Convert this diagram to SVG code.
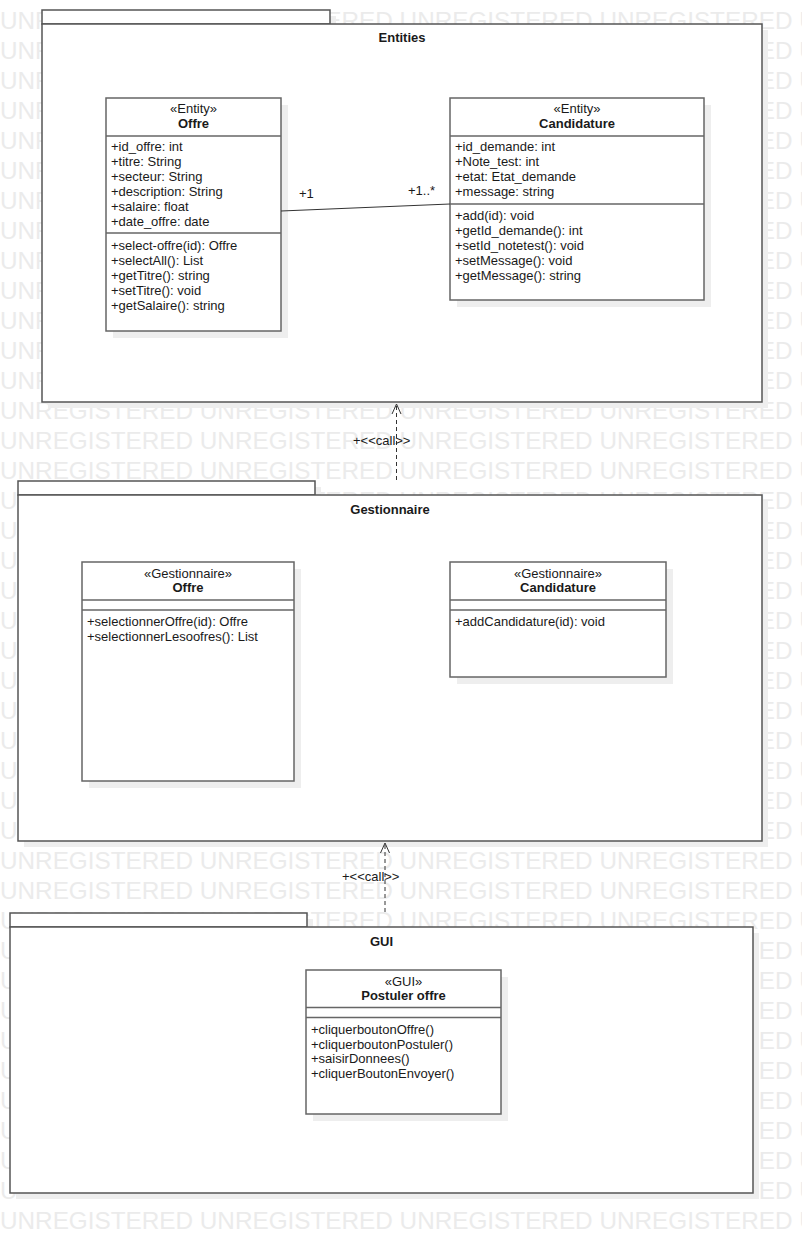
<svg xmlns="http://www.w3.org/2000/svg" width="802" height="1234" viewBox="0 0 802 1234">
<style>
.wm{font-family:"Liberation Sans",Arial,sans-serif;font-size:24.3px;fill:#ebebeb}
.pk{fill:#fff;stroke:#555;stroke-width:1.5}
.sh{fill:#eeeeee}
.cl{fill:#fff;stroke:#666;stroke-width:1.5}
.dv{stroke:#666;stroke-width:1.5}
.t{font-family:"Liberation Sans",Arial,sans-serif;font-size:13px;fill:#1a1a1a}
.b{font-weight:bold}
.c{text-anchor:middle}
.conn{stroke:#333;stroke-width:1;fill:none}
.dash{stroke-dasharray:4 3}
</style>
<rect width="802" height="1234" fill="#fff"/>
<g id="watermark" class="wm">
<text x="0" y="28.5">UNREGISTERED UNREGISTERED UNREGISTERED UNREGISTERED UNREGISTERED</text>
<text x="0" y="58.5">UNREGISTERED UNREGISTERED UNREGISTERED UNREGISTERED UNREGISTERED</text>
<text x="0" y="88.5">UNREGISTERED UNREGISTERED UNREGISTERED UNREGISTERED UNREGISTERED</text>
<text x="0" y="118.5">UNREGISTERED UNREGISTERED UNREGISTERED UNREGISTERED UNREGISTERED</text>
<text x="0" y="148.5">UNREGISTERED UNREGISTERED UNREGISTERED UNREGISTERED UNREGISTERED</text>
<text x="0" y="178.5">UNREGISTERED UNREGISTERED UNREGISTERED UNREGISTERED UNREGISTERED</text>
<text x="0" y="208.5">UNREGISTERED UNREGISTERED UNREGISTERED UNREGISTERED UNREGISTERED</text>
<text x="0" y="238.5">UNREGISTERED UNREGISTERED UNREGISTERED UNREGISTERED UNREGISTERED</text>
<text x="0" y="268.5">UNREGISTERED UNREGISTERED UNREGISTERED UNREGISTERED UNREGISTERED</text>
<text x="0" y="298.5">UNREGISTERED UNREGISTERED UNREGISTERED UNREGISTERED UNREGISTERED</text>
<text x="0" y="328.5">UNREGISTERED UNREGISTERED UNREGISTERED UNREGISTERED UNREGISTERED</text>
<text x="0" y="358.5">UNREGISTERED UNREGISTERED UNREGISTERED UNREGISTERED UNREGISTERED</text>
<text x="0" y="388.5">UNREGISTERED UNREGISTERED UNREGISTERED UNREGISTERED UNREGISTERED</text>
<text x="0" y="418.5">UNREGISTERED UNREGISTERED UNREGISTERED UNREGISTERED UNREGISTERED</text>
<text x="0" y="448.5">UNREGISTERED UNREGISTERED UNREGISTERED UNREGISTERED UNREGISTERED</text>
<text x="0" y="478.5">UNREGISTERED UNREGISTERED UNREGISTERED UNREGISTERED UNREGISTERED</text>
<text x="0" y="508.5">UNREGISTERED UNREGISTERED UNREGISTERED UNREGISTERED UNREGISTERED</text>
<text x="0" y="538.5">UNREGISTERED UNREGISTERED UNREGISTERED UNREGISTERED UNREGISTERED</text>
<text x="0" y="568.5">UNREGISTERED UNREGISTERED UNREGISTERED UNREGISTERED UNREGISTERED</text>
<text x="0" y="598.5">UNREGISTERED UNREGISTERED UNREGISTERED UNREGISTERED UNREGISTERED</text>
<text x="0" y="628.5">UNREGISTERED UNREGISTERED UNREGISTERED UNREGISTERED UNREGISTERED</text>
<text x="0" y="658.5">UNREGISTERED UNREGISTERED UNREGISTERED UNREGISTERED UNREGISTERED</text>
<text x="0" y="688.5">UNREGISTERED UNREGISTERED UNREGISTERED UNREGISTERED UNREGISTERED</text>
<text x="0" y="718.5">UNREGISTERED UNREGISTERED UNREGISTERED UNREGISTERED UNREGISTERED</text>
<text x="0" y="748.5">UNREGISTERED UNREGISTERED UNREGISTERED UNREGISTERED UNREGISTERED</text>
<text x="0" y="778.5">UNREGISTERED UNREGISTERED UNREGISTERED UNREGISTERED UNREGISTERED</text>
<text x="0" y="808.5">UNREGISTERED UNREGISTERED UNREGISTERED UNREGISTERED UNREGISTERED</text>
<text x="0" y="838.5">UNREGISTERED UNREGISTERED UNREGISTERED UNREGISTERED UNREGISTERED</text>
<text x="0" y="868.5">UNREGISTERED UNREGISTERED UNREGISTERED UNREGISTERED UNREGISTERED</text>
<text x="0" y="898.5">UNREGISTERED UNREGISTERED UNREGISTERED UNREGISTERED UNREGISTERED</text>
<text x="0" y="928.5">UNREGISTERED UNREGISTERED UNREGISTERED UNREGISTERED UNREGISTERED</text>
<text x="0" y="958.5">UNREGISTERED UNREGISTERED UNREGISTERED UNREGISTERED UNREGISTERED</text>
<text x="0" y="988.5">UNREGISTERED UNREGISTERED UNREGISTERED UNREGISTERED UNREGISTERED</text>
<text x="0" y="1018.5">UNREGISTERED UNREGISTERED UNREGISTERED UNREGISTERED UNREGISTERED</text>
<text x="0" y="1048.5">UNREGISTERED UNREGISTERED UNREGISTERED UNREGISTERED UNREGISTERED</text>
<text x="0" y="1078.5">UNREGISTERED UNREGISTERED UNREGISTERED UNREGISTERED UNREGISTERED</text>
<text x="0" y="1108.5">UNREGISTERED UNREGISTERED UNREGISTERED UNREGISTERED UNREGISTERED</text>
<text x="0" y="1138.5">UNREGISTERED UNREGISTERED UNREGISTERED UNREGISTERED UNREGISTERED</text>
<text x="0" y="1168.5">UNREGISTERED UNREGISTERED UNREGISTERED UNREGISTERED UNREGISTERED</text>
<text x="0" y="1198.5">UNREGISTERED UNREGISTERED UNREGISTERED UNREGISTERED UNREGISTERED</text>
<text x="0" y="1228.5">UNREGISTERED UNREGISTERED UNREGISTERED UNREGISTERED UNREGISTERED</text>
</g>

<g id="pkg-entities">
<rect class="sh" x="48" y="16" width="288" height="14"/>
<rect class="sh" x="48" y="30" width="720" height="378"/>
<rect class="pk" x="42" y="10" width="288" height="14"/>
<rect class="pk" x="42" y="24" width="720" height="378"/>
<text class="t b c" x="402" y="41.5">Entities</text>
</g>

<g id="pkg-gestionnaire">
<rect class="sh" x="24" y="487" width="297" height="14"/>
<rect class="sh" x="24" y="501" width="744" height="346"/>
<rect class="pk" x="18" y="481" width="297" height="14"/>
<rect class="pk" x="18" y="495" width="744" height="346"/>
<text class="t b c" x="390" y="513.5">Gestionnaire</text>
</g>

<g id="pkg-gui">
<rect class="sh" x="16" y="919" width="297" height="14"/>
<rect class="sh" x="16" y="933" width="743" height="266"/>
<rect class="pk" x="10" y="913" width="297" height="14"/>
<rect class="pk" x="10" y="927" width="743" height="266"/>
<text class="t b c" x="381.5" y="946">GUI</text>
</g>

<g id="entity-offre">
<rect class="sh" x="113" y="105" width="175" height="233"/>
<rect class="cl" x="106" y="98" width="175" height="233"/>
<line class="dv" x1="106" y1="136" x2="281" y2="136"/>
<line class="dv" x1="106" y1="233" x2="281" y2="233"/>
<text class="t c" x="193.5" y="112.5">«Entity»</text>
<text class="t b c" x="193.5" y="127.5">Offre</text>
<text class="t" x="111" y="150.5">+id_offre: int</text>
<text class="t" x="111" y="165.5">+titre: String</text>
<text class="t" x="111" y="180.5">+secteur: String</text>
<text class="t" x="111" y="195.5">+description: String</text>
<text class="t" x="111" y="210.5">+salaire: float</text>
<text class="t" x="111" y="225.5">+date_offre: date</text>
<text class="t" x="111" y="249.5">+select-offre(id): Offre</text>
<text class="t" x="111" y="264.5">+selectAll(): List</text>
<text class="t" x="111" y="279.5">+getTitre(): string</text>
<text class="t" x="111" y="294.5">+setTitre(): void</text>
<text class="t" x="111" y="309.5">+getSalaire(): string</text>
</g>

<g id="entity-candidature">
<rect class="sh" x="457" y="105" width="254" height="202"/>
<rect class="cl" x="450" y="98" width="254" height="202"/>
<line class="dv" x1="450" y1="136" x2="704" y2="136"/>
<line class="dv" x1="450" y1="204" x2="704" y2="204"/>
<text class="t c" x="577" y="112.5">«Entity»</text>
<text class="t b c" x="577" y="127.5">Candidature</text>
<text class="t" x="455" y="150.5">+id_demande: int</text>
<text class="t" x="455" y="165.5">+Note_test: int</text>
<text class="t" x="455" y="180.5">+etat: Etat_demande</text>
<text class="t" x="455" y="195.5">+message: string</text>
<text class="t" x="455" y="219.5">+add(id): void</text>
<text class="t" x="455" y="234.5">+getId_demande(): int</text>
<text class="t" x="455" y="249.5">+setId_notetest(): void</text>
<text class="t" x="455" y="264.5">+setMessage(): void</text>
<text class="t" x="455" y="279.5">+getMessage(): string</text>
</g>

<g id="gestionnaire-offre">
<rect class="sh" x="89" y="569" width="212" height="219"/>
<rect class="cl" x="82" y="562" width="212" height="219"/>
<line class="dv" x1="82" y1="600" x2="294" y2="600"/>
<line class="dv" x1="82" y1="610" x2="294" y2="610"/>
<text class="t c" x="188" y="577.5">«Gestionnaire»</text>
<text class="t b c" x="188" y="592">Offre</text>
<text class="t" x="87" y="626">+selectionnerOffre(id): Offre</text>
<text class="t" x="87" y="640.5">+selectionnerLesoofres(): List</text>
</g>

<g id="gestionnaire-candidature">
<rect class="sh" x="457" y="569" width="216" height="115"/>
<rect class="cl" x="450" y="562" width="216" height="115"/>
<line class="dv" x1="450" y1="600" x2="666" y2="600"/>
<line class="dv" x1="450" y1="610" x2="666" y2="610"/>
<text class="t c" x="558" y="577.5">«Gestionnaire»</text>
<text class="t b c" x="558" y="592">Candidature</text>
<text class="t" x="455" y="625.5">+addCandidature(id): void</text>
</g>

<g id="gui-postuler-offre">
<rect class="sh" x="313" y="977" width="195" height="144"/>
<rect class="cl" x="306" y="970" width="195" height="144"/>
<line class="dv" x1="306" y1="1007.5" x2="501" y2="1007.5"/>
<line class="dv" x1="306" y1="1017.5" x2="501" y2="1017.5"/>
<text class="t c" x="403.5" y="986">«GUI»</text>
<text class="t b c" x="403.5" y="1000">Postuler offre</text>
<text class="t" x="311" y="1034">+cliquerboutonOffre()</text>
<text class="t" x="311" y="1048.5">+cliquerboutonPostuler()</text>
<text class="t" x="311" y="1063">+saisirDonnees()</text>
<text class="t" x="311" y="1078">+cliquerBoutonEnvoyer()</text>
</g>

<g id="connectors">
<line class="conn" x1="281" y1="211" x2="450" y2="204"/>
<text class="t" x="299" y="197.5">+1</text>
<text class="t" x="408" y="194.5">+1..*</text>
<line class="conn dash" x1="396.5" y1="480" x2="396.5" y2="404"/>
<polyline class="conn" points="392,414 396.5,404 401,414"/>
<text class="t" x="353" y="445">+&lt;&lt;call&gt;&gt;</text>
<line class="conn dash" x1="385" y1="912" x2="385" y2="843"/>
<polyline class="conn" points="380.5,853 385,843 389.5,853"/>
<text class="t" x="342" y="881">+&lt;&lt;call&gt;&gt;</text>
</g>
</svg>
